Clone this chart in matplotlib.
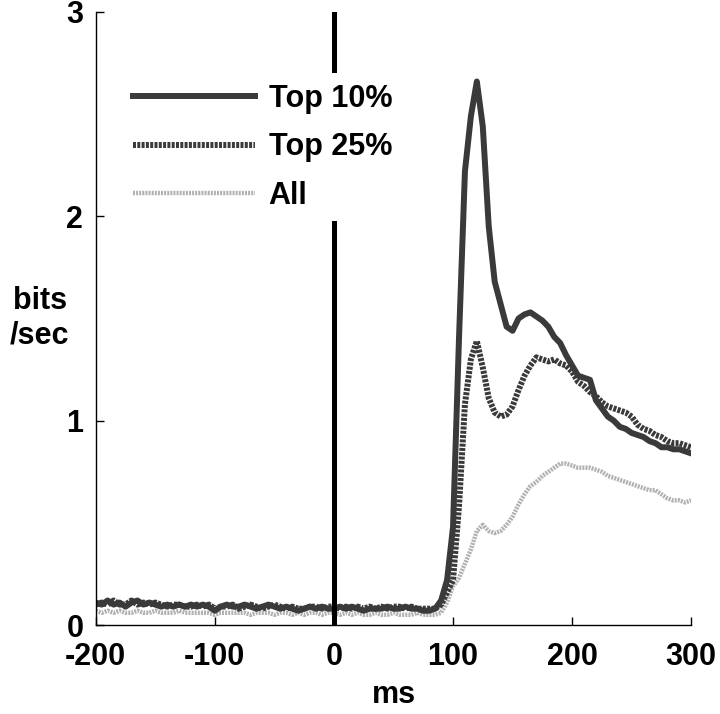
import matplotlib.pyplot as plt

# time axis (ms), 5 ms steps from -200 to 300
t_ms = list(range(-200, 305, 5))

# information rate (bits/sec)
top10 = [0.11, 0.10, 0.12, 0.10, 0.11, 0.09, 0.11, 0.12, 0.10, 0.11,
         0.10, 0.09, 0.10, 0.09, 0.10, 0.09, 0.10, 0.09, 0.10, 0.09,
         0.07, 0.09, 0.10, 0.09, 0.09, 0.10, 0.09, 0.08, 0.09, 0.10,
         0.09, 0.08, 0.09, 0.08, 0.07, 0.08, 0.09, 0.08, 0.09, 0.08,
         0.08, 0.09, 0.08, 0.09, 0.08, 0.07, 0.08, 0.08, 0.08, 0.09,
         0.08, 0.08, 0.09, 0.08, 0.08, 0.07, 0.07, 0.08,
         0.12, 0.22, 0.48, 1.40, 2.22, 2.49, 2.66, 2.44, 1.95, 1.68,
         1.57, 1.46, 1.44, 1.50, 1.52, 1.53, 1.51, 1.49, 1.46, 1.41,
         1.38, 1.32, 1.27, 1.22, 1.21, 1.20, 1.10, 1.06, 1.02, 1.00,
         0.97, 0.96, 0.94, 0.93, 0.92, 0.90, 0.89, 0.87, 0.87, 0.86,
         0.86, 0.85, 0.84]

top25 = [0.10, 0.11, 0.10, 0.12, 0.10, 0.10, 0.12, 0.10, 0.11, 0.10,
         0.11, 0.10, 0.09, 0.10, 0.10, 0.09, 0.09, 0.10, 0.09, 0.10,
         0.08, 0.09, 0.09, 0.10, 0.08, 0.09, 0.10, 0.09, 0.08, 0.09,
         0.10, 0.09, 0.08, 0.09, 0.08, 0.08, 0.09, 0.09, 0.08, 0.09,
         0.09, 0.08, 0.09, 0.08, 0.09, 0.08, 0.09, 0.08, 0.09, 0.08,
         0.09, 0.09, 0.08, 0.09, 0.08, 0.08, 0.08, 0.08,
         0.10, 0.16, 0.22, 0.58, 1.08, 1.30, 1.39, 1.26, 1.11, 1.04,
         1.02, 1.03, 1.07, 1.15, 1.22, 1.27, 1.31, 1.30, 1.29, 1.30,
         1.28, 1.27, 1.24, 1.19, 1.17, 1.14, 1.12, 1.09, 1.07, 1.06,
         1.05, 1.04, 1.02, 0.98, 0.96, 0.95, 0.93, 0.92, 0.90, 0.89,
         0.89, 0.88, 0.87]

all_cells = [0.07, 0.06, 0.07, 0.06, 0.07, 0.06, 0.06, 0.07, 0.06, 0.06,
             0.07, 0.06, 0.06, 0.06, 0.07, 0.06, 0.06, 0.06, 0.06, 0.06,
             0.05, 0.06, 0.06, 0.06, 0.06, 0.06, 0.05, 0.06, 0.06, 0.06,
             0.05, 0.06, 0.06, 0.05, 0.06, 0.05, 0.06, 0.06, 0.05, 0.06,
             0.06, 0.05, 0.06, 0.05, 0.06, 0.05, 0.05, 0.06, 0.05, 0.05,
             0.06, 0.05, 0.05, 0.05, 0.06, 0.05, 0.05, 0.05,
             0.06, 0.11, 0.19, 0.23, 0.30, 0.37, 0.46, 0.49, 0.46, 0.45,
             0.46, 0.49, 0.53, 0.59, 0.64, 0.68, 0.70, 0.73, 0.75, 0.77,
             0.79, 0.79, 0.78, 0.77, 0.77, 0.77, 0.76, 0.75, 0.73, 0.72,
             0.71, 0.70, 0.69, 0.68, 0.67, 0.66, 0.66, 0.64, 0.62, 0.61,
             0.61, 0.60, 0.61]

plt.rcParams['font.family'] = ['Liberation Sans', 'DejaVu Sans']
plt.rcParams['font.weight'] = 'bold'
plt.rcParams['axes.unicode_minus'] = False

fig = plt.figure(figsize=(7.2, 7.14), dpi=100)
ax = fig.add_axes([0.133, 0.1246, 0.827, 0.8586])

ax.plot(t_ms, all_cells, color='#b0b0b0', lw=3.2, linestyle=(0, (0.45, 0.25)), label='All')
ax.plot(t_ms, top25, color='#3a3a3a', lw=4.3, linestyle=(0, (0.5, 0.22)), label='Top 25%')
ax.plot(t_ms, top10, color='#3a3a3a', lw=4.3, label='Top 10%')
ax.axvline(0, color='black', lw=3.6, zorder=3)

# legend order as in figure
h, l = ax.get_legend_handles_labels()
leg = ax.legend(h[::-1], l[::-1], loc='upper left', bbox_to_anchor=(0.045, 0.90),
                fontsize=22, frameon=True, facecolor='white', edgecolor='none',
                framealpha=1, fancybox=False, handlelength=4.0, handletextpad=0.43,
                borderpad=0.35, labelspacing=0.6, borderaxespad=0)
leg.set_zorder(5)

ax.set_xlim(-200, 300)
ax.set_ylim(0, 3)
ax.set_xticks([-200, -100, 0, 100, 200, 300])
ax.set_yticks([0, 1, 2, 3])
ax.tick_params(direction='in', length=6, width=1, labelsize=22)
ax.tick_params(axis='x', pad=12)
ax.tick_params(axis='y', pad=9)
for s in ['top', 'right']:
    ax.spines[s].set_visible(False)
for s in ['left', 'bottom']:
    ax.spines[s].set_linewidth(1)

ax.set_xlabel('ms', fontsize=22, fontweight='bold', labelpad=6)
ax.set_ylabel('bits\n/sec', fontsize=22, fontweight='bold', rotation=0,
              ha='center', va='center', multialignment='center')
ax.yaxis.set_label_coords(-0.094, 0.5)

fig.savefig('out.png', dpi=100)
